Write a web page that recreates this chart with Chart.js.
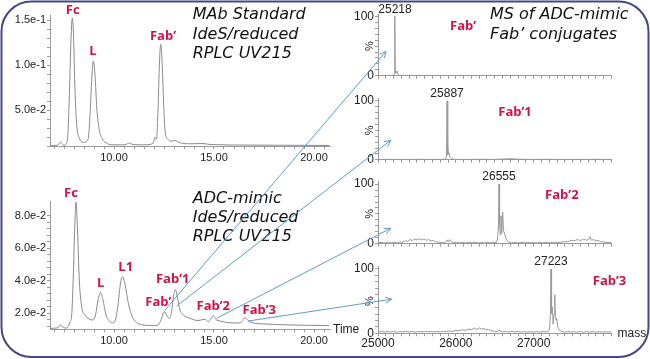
<!doctype html>
<html>
<head>
<meta charset="utf-8">
<title>IdeS RPLC / MS of ADC-mimic</title>
<script src="https://cdn.jsdelivr.net/npm/chart.js@4/dist/chart.umd.min.js"></script>
<style>
  body { margin: 0; background: #fff; }
  #wrap { position: relative; width: 650px; height: 359px; overflow: hidden; }
  #wrap canvas { position: absolute; }
  .note { position: absolute; font: italic 16px "DejaVu Sans", sans-serif; line-height: 19.3px; color: #111; white-space: nowrap; }
</style>
</head>
<body>
<div id="wrap">
  <canvas id="lcStd" width="340" height="172" style="left:0;top:0"></canvas>
  <canvas id="lcAdc" width="340" height="175" style="left:0;top:180px"></canvas>
  <canvas id="ms1" width="310" height="84" style="left:340px;top:0"></canvas>
  <canvas id="ms2" width="310" height="84" style="left:340px;top:84px"></canvas>
  <canvas id="ms3" width="310" height="84" style="left:340px;top:168px"></canvas>
  <canvas id="ms4" width="310" height="104" style="left:340px;top:252px"></canvas>
  <div class="note" style="left:192.7px;top:4.3px">MAb Standard<br>IdeS/reduced<br>RPLC UV215</div>
  <div class="note" style="left:192.7px;top:187.6px">ADC-mimic<br>IdeS/reduced<br>RPLC UV215</div>
  <div class="note" style="left:490px;top:4.3px">MS of ADC-mimic<br>Fab’ conjugates</div>
  <canvas id="over" width="650" height="359" style="left:0;top:0;pointer-events:none"></canvas>
</div>
<script>
// ---- chromatograms (time in min, absorbance) ----
var lcTimeStd = [6.8, 7.15, 7.25, 7.335, 7.4, 7.5, 7.635, 7.7, 7.775, 7.85, 7.915, 7.975, 8.05, 8.135, 8.25, 8.45, 8.6, 8.715, 8.8, 8.89, 8.965, 9.05, 9.14, 9.25, 9.4, 9.6, 9.9, 10.55, 10.765, 10.95, 11.55, 11.95, 12.05, 12.125, 12.2, 12.275, 12.335, 12.4, 12.475, 12.55, 12.7, 12.85, 13.05, 13.3, 13.8, 14.45, 14.8, 16.8, 20.75];
var lcAbsStd = [0.0104, 0.0108, 0.0125, 0.0145, 0.0125, 0.0108, 0.013, 0.0253, 0.0724, 0.1284, 0.1527, 0.134, 0.0724, 0.0332, 0.0197, 0.0141, 0.0147, 0.0186, 0.0444, 0.0858, 0.1048, 0.0892, 0.0522, 0.0298, 0.0186, 0.0136, 0.0113, 0.0113, 0.0134, 0.0116, 0.0113, 0.013, 0.0197, 0.0175, 0.05, 0.1037, 0.1235, 0.106, 0.0612, 0.0276, 0.0175, 0.0153, 0.0164, 0.0136, 0.0125, 0.0127, 0.0117, 0.011, 0.0106];

var lcTimeAdc = [6.8, 7.15, 7.25, 7.335, 7.425, 7.55, 7.715, 7.8, 7.885, 7.95, 8.025, 8.1, 8.175, 8.265, 8.385, 8.55, 8.75, 8.95, 9.075, 9.2, 9.335, 9.45, 9.6, 9.75, 9.9, 10.05, 10.2, 10.325, 10.435, 10.55, 10.715, 10.9, 11.135, 11.4, 12.05, 12.25, 12.385, 12.515, 12.65, 12.765, 12.875, 12.975, 13.075, 13.175, 13.3, 13.5, 13.8, 14.2, 14.55, 14.715, 14.85, 14.965, 15.1, 15.3, 15.8, 16.3, 16.425, 16.55, 16.7, 16.9, 17.55, 18.8, 20.75];
var lcAbsAdc = [0.0107, 0.0109, 0.0118, 0.0128, 0.0115, 0.0109, 0.0117, 0.0146, 0.0189, 0.0374, 0.0683, 0.0888, 0.0713, 0.0405, 0.024, 0.0189, 0.0165, 0.0158, 0.0189, 0.0282, 0.0327, 0.0282, 0.0189, 0.0155, 0.014, 0.0152, 0.0251, 0.0387, 0.0425, 0.038, 0.0263, 0.0183, 0.0142, 0.0129, 0.0124, 0.0134, 0.0171, 0.021, 0.0183, 0.0169, 0.0208, 0.0306, 0.0346, 0.0294, 0.022, 0.0186, 0.0169, 0.0155, 0.0163, 0.0148, 0.0168, 0.0185, 0.0161, 0.0152, 0.0141, 0.014, 0.0155, 0.0173, 0.0155, 0.0142, 0.0134, 0.0128, 0.0124];

var LC_X_TICKS = [10, 15, 20];
var LC_STD_Y_TICKS = [0.05, 0.10, 0.15];
var LC_ADC_Y_TICKS = [0.02, 0.04, 0.06, 0.08];

// peak names, placed at (time, absorbance) of the label
var stdPeakNames = ['Fc', 'L', 'Fab’'];
var stdPeakAt = [[7.935, 0.1608], [8.95, 0.1153], [12.45, 0.1328]];
var adcPeakNames = ['Fc', 'L', 'L1', 'Fab’', 'Fab’1', 'Fab’2', 'Fab’3'];
var adcPeakAt = [[7.85, 0.094], [9.335, 0.0385], [10.585, 0.0481], [12.215, 0.0268], [12.935, 0.0411], [14.965, 0.0245], [17.265, 0.022]];

// ---- deconvoluted mass spectra (mass, %) ----
var msMass1 = [25000, 25100, 25180, 25200, 25210, 25214, 25218, 25222, 25228, 25236, 25244, 25255, 25270, 25300, 25400, 25600, 25800, 26000, 26300, 26600, 27000, 27400, 27800, 28000];
var msInt1 = [0.5, 0.6, 0.5, 1, 3, 8, 100, 7, 5, 8, 5, 3, 1, 0.6, 0.5, 0.6, 0.5, 0.6, 0.5, 0.6, 0.5, 0.6, 0.5, 0.5];

var msMass2 = [25000, 25150, 25300, 25500, 25700, 25850, 25872, 25880, 25887, 25893, 25899, 25905, 25912, 25920, 25932, 25950, 25980, 26100, 26300, 26500, 26650, 26700, 26750, 26850, 27000, 27200, 27500, 27800, 28000];
var msInt2 = [0.5, 0.8, 0.6, 0.8, 0.6, 0.8, 2, 6, 100, 8, 25, 10, 12, 6, 4, 1.5, 0.8, 0.6, 0.8, 0.7, 1.5, 2, 1.5, 0.8, 0.7, 0.8, 0.6, 0.8, 0.6];

var msMass3 = [25000, 25040, 25080, 25120, 25160, 25200, 25240, 25280, 25320, 25350, 25380, 25410, 25440, 25470, 25500, 25530, 25560, 25590, 25620, 25650, 25680, 25710, 25740, 25770, 25800, 25840, 25870, 25890, 25905, 25920, 25940, 25970, 26010, 26050, 26090, 26130, 26170, 26210, 26250, 26290, 26330, 26370, 26410, 26450, 26490, 26520, 26535, 26548, 26555, 26562, 26570, 26580, 26590, 26602, 26612, 26625, 26640, 26660, 26685, 26720, 26760, 26800, 26840, 26880, 26920, 26960, 27000, 27040, 27080, 27120, 27160, 27200, 27240, 27280, 27320, 27360, 27400, 27440, 27480, 27520, 27560, 27600, 27640, 27680, 27710, 27725, 27740, 27770, 27800, 27830, 27860, 27900, 27940, 27970, 28000];
var msInt3 = [1.5, 2.5, 1.2, 2.2, 1.4, 2.6, 1.6, 3, 2.5, 5, 4, 7, 5.5, 8, 6.5, 8.5, 6.5, 8, 6, 7, 5, 5.5, 3.5, 3, 2, 1.8, 3, 6.5, 3, 7, 3.5, 2, 2.6, 1.5, 2.4, 1.4, 2.6, 1.5, 2.5, 1.4, 2.4, 1.5, 2.6, 1.6, 2.4, 2, 8, 30, 100, 35, 15, 47, 18, 53, 22, 18, 10, 5, 2.5, 1.6, 2.4, 1.5, 2.5, 1.4, 2.3, 1.6, 2.4, 1.4, 2.6, 1.6, 2.4, 1.5, 2.5, 1.8, 2.6, 2.5, 4, 3.5, 6, 5, 7, 5.5, 7.5, 6, 8, 12, 6, 7, 5, 5.5, 3.5, 3, 2, 2.5, 1.8];

var msMass4 = [25000, 25040, 25080, 25120, 25160, 25200, 25240, 25280, 25320, 25360, 25400, 25440, 25480, 25520, 25560, 25600, 25640, 25680, 25720, 25760, 25800, 25840, 25880, 25920, 25960, 26000, 26040, 26080, 26120, 26160, 26200, 26240, 26270, 26300, 26330, 26360, 26390, 26420, 26450, 26480, 26510, 26540, 26555, 26570, 26600, 26640, 26680, 26720, 26760, 26800, 26840, 26880, 26920, 26960, 27000, 27040, 27080, 27120, 27160, 27190, 27205, 27215, 27223, 27230, 27240, 27250, 27262, 27271, 27280, 27290, 27296, 27310, 27330, 27360, 27400, 27440, 27480, 27520, 27560, 27600, 27640, 27680, 27720, 27760, 27800, 27840, 27880, 27920, 27960, 28000];
var msInt4 = [2, 3, 1.8, 2.8, 2, 3, 1.8, 2.8, 2, 3.2, 2, 2.8, 1.8, 3, 2, 2.8, 2.2, 3, 2, 2.8, 2.2, 3.2, 2.4, 3.6, 3, 4.5, 3.8, 5.5, 4.5, 6.5, 5.5, 8, 6, 8.5, 6.5, 7.5, 5.5, 6, 4, 3.5, 2.5, 3, 5.5, 3, 2.4, 3, 2, 2.8, 2, 2.8, 1.8, 2.6, 1.8, 2.6, 1.8, 2.6, 1.8, 2.6, 2, 3, 8, 30, 100, 30, 41, 14, 30, 60, 25, 20, 23, 10, 5, 2.6, 1.8, 2.6, 1.8, 2.6, 1.8, 2.6, 1.8, 2.6, 1.8, 2.6, 1.8, 2.4, 1.8, 2.4, 1.8, 2.2];

var MS_X_TICKS = [25000, 26000, 27000];
var MS_Y_TICKS = [0, 100];
var msPeaks = [25218, 25887, 26555, 27223];
var msNames = ['Fab’', 'Fab’1', 'Fab’2', 'Fab’3'];
var msNameAt = [[26093, 84], [26760, 80.6], [27362, 80.6], [27974, 81.3]];

// arrows: LC point (time, abs) -> MS panel point (mass, %)
var arrowFrom = [[12.55, 0.022], [13.135, 0.0245], [15.135, 0.0169], [16.715, 0.0152]];
var arrowTo = [[25103, 41], [25163, 33], [25163, 26], [25176, 53]];

Chart.defaults.font.family = '"Liberation Sans", Arial, sans-serif';
Chart.defaults.color = '#222';

var RED = '#cf1346';
var AXIS = '#9a9a9a';

function stepTicks(a, b, step) {
  var t = [];
  for (var v = a; v <= b + step / 100; v += step) t.push({ value: Math.round(v * 100000) / 100000 });
  return t;
}
function inList(v, list) {
  return list.some(function (m) { return Math.abs(m - v) < 1e-9; });
}
function pts(xs, ys) {
  return xs.map(function (x, i) { return { x: x, y: ys[i] }; });
}

// draws text items given in data coordinates
function textPlugin(names, at, font, color) {
  return {
    id: 'peakNames',
    afterDraw: function (chart) {
      var ctx = chart.ctx, x = chart.scales.x, y = chart.scales.y;
      ctx.save();
      ctx.font = font;
      ctx.fillStyle = color;
      ctx.textAlign = 'center';
      ctx.textBaseline = 'middle';
      names.forEach(function (n, i) {
        ctx.fillText(n, x.getPixelForValue(at[i][0]), y.getPixelForValue(at[i][1]));
      });
      ctx.restore();
    }
  };
}

function lcChart(id, times, abs, yMin, yMax, yMajor, yStep, padTop, xh, names, at) {
  return new Chart(document.getElementById(id), {
    type: 'line',
    data: { datasets: [{ data: pts(times, abs), borderColor: '#8a8a8a', borderWidth: 1, pointRadius: 0, cubicInterpolationMode: 'monotone' }] },
    options: {
      responsive: false, animation: false, events: [],
      layout: { padding: { top: padTop, right: 10, left: 0, bottom: 0 } },
      plugins: { legend: { display: false }, tooltip: { enabled: false } },
      scales: {
        x: {
          type: 'linear', bounds: 'data', min: 6.8, max: 20.8,
          afterBuildTicks: function (s) { s.ticks = stepTicks(7, 20.5, 0.5); },
          afterFit: function (s) { s.height = xh; },
          grid: { drawOnChartArea: false, tickLength: 3, color: AXIS },
          border: { color: AXIS },
          ticks: { autoSkip: false, maxRotation: 0, padding: 2, font: { size: 11 },
            callback: function (v) { return inList(v, LC_X_TICKS) ? v.toFixed(2) : ''; } }
        },
        y: {
          type: 'linear', bounds: 'data', min: yMin, max: yMax,
          afterBuildTicks: function (s) { s.ticks = stepTicks(yMajor[0] - yStep * Math.round((yMajor[0] - yMin) / yStep - 0.5), yMajor[yMajor.length - 1], yStep); },
          afterFit: function (s) { s.width = 50; },
          grid: { drawOnChartArea: false, tickLength: 3, color: AXIS },
          border: { color: AXIS },
          ticks: { autoSkip: false, padding: 1, font: { size: 11 },
            callback: function (v) { return inList(v, yMajor) ? v.toExponential(1) : ''; } }
        }
      }
    },
    plugins: [textPlugin(names, at, 'bold 13px "Open Sans", "DejaVu Sans", sans-serif', RED)]
  });
}

function msChart(id, mass, inten, padTop, xh, showX, k) {
  var extra = {
    id: 'msExtra',
    afterDraw: function (chart) {
      var ctx = chart.ctx, a = chart.chartArea, x = chart.scales.x, y = chart.scales.y;
      ctx.save();
      ctx.fillStyle = '#222';
      ctx.textAlign = 'center';
      ctx.textBaseline = 'middle';
      ctx.font = '12px "Liberation Sans", Arial, sans-serif';
      ctx.fillText(String(msPeaks[k]), x.getPixelForValue(msPeaks[k]), y.getPixelForValue(100) - 7);
      ctx.translate(a.left - 8, (y.getPixelForValue(0) + y.getPixelForValue(100)) / 2);
      ctx.rotate(-Math.PI / 2);
      ctx.font = '11px "Liberation Sans", Arial, sans-serif';
      ctx.fillText('%', 0, 0);
      ctx.restore();
    }
  };
  return new Chart(document.getElementById(id), {
    type: 'line',
    data: { datasets: [{ data: pts(mass, inten), borderColor: '#999', borderWidth: 1, pointRadius: 0, tension: 0 }] },
    options: {
      responsive: false, animation: false, events: [],
      layout: { padding: { top: padTop, right: 38.5, left: 0, bottom: 0 } },
      plugins: { legend: { display: false }, tooltip: { enabled: false } },
      scales: {
        x: {
          type: 'linear', bounds: 'data', min: 25000, max: 28000,
          afterBuildTicks: function (s) { s.ticks = stepTicks(25000, 28000, 100); },
          afterFit: function (s) { s.height = xh; },
          grid: { drawOnChartArea: false, tickLength: 3, color: AXIS },
          border: { color: AXIS },
          ticks: { autoSkip: false, maxRotation: 0, padding: 0, font: { size: 12 },
            callback: function (v) { return showX && inList(v, MS_X_TICKS) ? String(v) : ''; } }
        },
        y: {
          type: 'linear', bounds: 'data', min: 0, max: 104,
          afterBuildTicks: function (s) { s.ticks = stepTicks(0, 100, 10); },
          afterFit: function (s) { s.width = 38; },
          grid: { drawOnChartArea: false, tickLength: 3, color: AXIS },
          border: { color: AXIS },
          ticks: { autoSkip: false, padding: 1, font: { size: 12 },
            callback: function (v) { return inList(v, MS_Y_TICKS) ? String(v) : ''; } }
        }
      }
    },
    plugins: [extra, textPlugin([msNames[k]], [msNameAt[k]], 'bold 13px "Open Sans", "DejaVu Sans", sans-serif', RED)]
  });
}

var lcStd = lcChart('lcStd', lcTimeStd, lcAbsStd, 0.010, 0.156, LC_STD_Y_TICKS, 0.01, 15, 26, stdPeakNames, stdPeakAt);
var lcAdc = lcChart('lcAdc', lcTimeAdc, lcAbsAdc, 0.0101, 0.0888, LC_ADC_Y_TICKS, 0.004, 21.7, 25.7, adcPeakNames, adcPeakAt);

var ms = [
  msChart('ms1', msMass1, msInt1, 14, 3, false, 0),
  msChart('ms2', msMass2, msInt2, 14.5, 3.7, false, 1),
  msChart('ms3', msMass3, msInt3, 13.7, 3.7, false, 2),
  msChart('ms4', msMass4, msInt4, 14.4, 22.7, true, 3)
];

function onPage(chart, xv, yv) {
  return [chart.canvas.offsetLeft + chart.scales.x.getPixelForValue(xv),
          chart.canvas.offsetTop + chart.scales.y.getPixelForValue(yv)];
}

function drawOverlay() {
  var ctx = document.getElementById('over').getContext('2d');

  // rounded frame
  var l = 1.5, t = 1.5, r = 648.5, b = 357, rad = 30;
  ctx.strokeStyle = '#444883';
  ctx.lineWidth = 2;
  ctx.beginPath();
  ctx.moveTo(l + rad, t);
  ctx.arcTo(r, t, r, b, rad);
  ctx.arcTo(r, b, l, b, rad);
  ctx.arcTo(l, b, l, t, rad);
  ctx.arcTo(l, t, r, t, rad);
  ctx.closePath();
  ctx.stroke();

  // arrows from LC peaks to the spectra
  ctx.strokeStyle = '#5b9bd5';
  ctx.lineWidth = 1;
  arrowFrom.forEach(function (f, i) {
    var s = onPage(lcAdc, f[0], f[1]);
    var e = onPage(ms[i], arrowTo[i][0], arrowTo[i][1]);
    var ang = Math.atan2(e[1] - s[1], e[0] - s[0]), h = 7;
    ctx.beginPath();
    ctx.moveTo(s[0], s[1]);
    ctx.lineTo(e[0], e[1]);
    ctx.moveTo(e[0] - h * Math.cos(ang - 0.45), e[1] - h * Math.sin(ang - 0.45));
    ctx.lineTo(e[0], e[1]);
    ctx.lineTo(e[0] - h * Math.cos(ang + 0.45), e[1] - h * Math.sin(ang + 0.45));
    ctx.stroke();
  });

  // axis names
  ctx.fillStyle = '#222';
  ctx.font = '12px "Liberation Sans", Arial, sans-serif';
  ctx.textBaseline = 'middle';
  ctx.textAlign = 'left';
  var aa = lcAdc.chartArea;
  ctx.fillText('Time', lcAdc.canvas.offsetLeft + aa.right + 3, lcAdc.canvas.offsetTop + aa.bottom);
  var ma = ms[3].chartArea;
  ctx.fillText('mass', ms[3].canvas.offsetLeft + ma.right + 6, ms[3].canvas.offsetTop + ma.bottom);
}

drawOverlay();
</script>
</body>
</html>
